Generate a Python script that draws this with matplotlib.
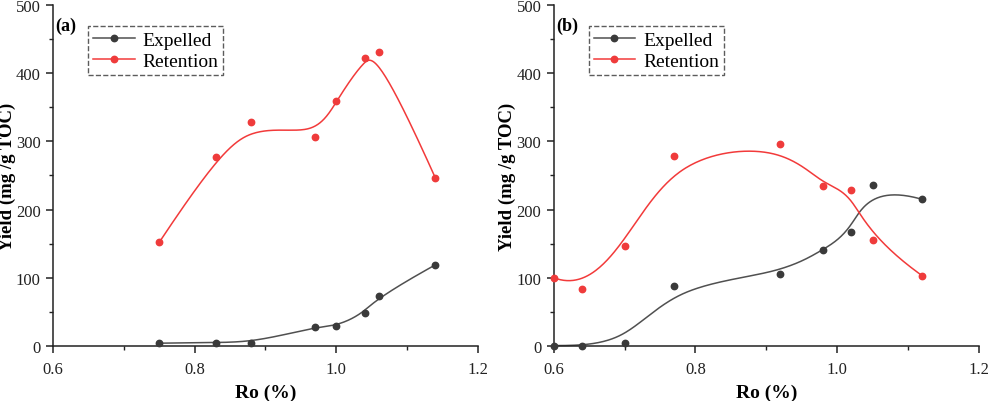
import matplotlib.pyplot as plt
import numpy as np
from matplotlib.ticker import MultipleLocator

plt.rcParams['font.family'] = ['Liberation Serif', 'DejaVu Serif']

# panel (a)
ro_a = [0.75, 0.83, 0.88, 0.97, 1.00, 1.04, 1.06, 1.14]
expelled_a = [4, 5, 4, 28, 29, 48, 73, 119]
retention_a = [152, 277, 328, 306, 359, 422, 431, 246]

# panel (b)
ro_b = [0.60, 0.64, 0.70, 0.77, 0.92, 0.98, 1.02, 1.05, 1.12]
expelled_b = [0.5, 0.5, 4, 88, 106, 141, 167, 236, 215]
retention_b = [100, 84, 147, 278, 296, 235, 228, 155, 103]

GRAY_LINE = '#505050'
GRAY_DOT = '#3a3a3a'
RED_LINE = '#f23a3a'
RED_DOT = '#ef3b3b'


def bspline(xs, ys, n=300, k=3):
    # clamped B-spline using the data points as control points (Origin-style)
    pts = np.column_stack([xs, ys]).astype(float)
    m = len(pts)
    k = min(k, m - 1)
    inner = np.linspace(0, 1, m - k + 1)
    t = np.concatenate([np.zeros(k), inner, np.ones(k)])
    u = np.linspace(0, 1, n)
    out = []
    for uu in u:
        j = np.searchsorted(t, uu, side='right') - 1
        j = min(max(j, k), m - 1)
        d = [pts[j - k + i].copy() for i in range(k + 1)]
        for r in range(1, k + 1):
            for i in range(k, r - 1, -1):
                den = t[i + 1 + j - r] - t[i + j - k]
                a = 0 if den == 0 else (uu - t[i + j - k]) / den
                d[i] = (1 - a) * d[i - 1] + a * d[i]
        out.append(d[k])
    out = np.array(out)
    return out[:, 0], out[:, 1]


def panel(ax, ro, exp, ret, tag):
    for ys, lc, dc, lab in [(exp, GRAY_LINE, GRAY_DOT, 'Expelled'),
                            (ret, RED_LINE, RED_DOT, 'Retention')]:
        sx, sy = bspline(ro, ys)
        ax.plot(sx, sy, color=lc, lw=1.1, clip_on=False)
        ax.plot(ro, ys, 'o', color=dc, ms=4.6, clip_on=False, zorder=3)
        ax.plot([], [], '-o', color=lc, mfc=dc, mec=dc, ms=4.6, lw=1.1, label=lab)
    ax.set_xlim(0.6, 1.2)
    ax.set_ylim(0, 500)
    ax.xaxis.set_major_locator(MultipleLocator(0.2))
    ax.xaxis.set_minor_locator(MultipleLocator(0.1))
    ax.yaxis.set_major_locator(MultipleLocator(100))
    ax.yaxis.set_minor_locator(MultipleLocator(50))
    ax.xaxis.set_major_formatter(lambda v, p: f'{v:.1f}')
    ax.spines['top'].set_visible(False)
    ax.spines['right'].set_visible(False)
    for s in ('left', 'bottom'):
        ax.spines[s].set_linewidth(1.1)
        ax.spines[s].set_color('#222222')
    ax.tick_params(which='major', direction='out', length=5, width=1.1,
                   labelsize=12, colors='#222222')
    ax.tick_params(axis='x', which='major', pad=6)
    ax.tick_params(axis='y', which='major', pad=4)
    ax.tick_params(which='minor', direction='out', length=3, width=1.0,
                   colors='#222222')
    ax.set_xlabel('Ro (%)', fontsize=14, fontweight='bold')
    ax.xaxis.set_label_coords(0.5, -0.11)
    ax.set_ylabel('Yield (mg /g TOC)', fontsize=13.5, fontweight='bold')
    ax.yaxis.set_label_coords(-0.088, 0.5)
    ax.text(0.005, 0.94, tag, transform=ax.transAxes, fontsize=13,
            fontweight='bold', va='center')
    leg = ax.legend(loc='upper left', bbox_to_anchor=(0.082, 0.938), fontsize=14,
                    frameon=True, fancybox=False, edgecolor='#333333',
                    handlelength=2.15, handletextpad=0.4, borderpad=0.25,
                    labelspacing=0.2, borderaxespad=0)
    leg.get_frame().set_linestyle('--')
    leg.get_frame().set_linewidth(1.0)


fig = plt.figure(figsize=(9.89, 4.02), dpi=100)
ax1 = fig.add_axes([0.0536, 0.137, 0.4297, 0.848])
ax2 = fig.add_axes([0.560, 0.137, 0.4297, 0.848])
panel(ax1, ro_a, expelled_a, retention_a, '(a)')
panel(ax2, ro_b, expelled_b, retention_b, '(b)')

fig.savefig('out.png', dpi=100)
